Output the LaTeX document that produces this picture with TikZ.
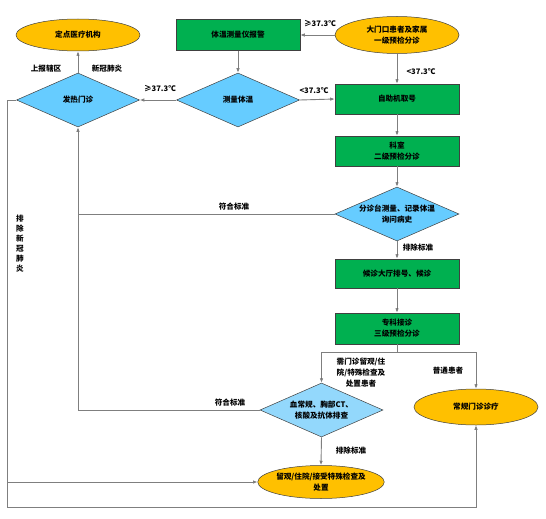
\documentclass[tikz,border=0pt]{standalone}
\usepackage{fontspec}
\setmainfont{Noto Sans CJK SC}
\usetikzlibrary{shapes.geometric,arrows.meta}
\definecolor{gbox}{HTML}{00B050}
\definecolor{ybox}{HTML}{FFC000}
\definecolor{bdia}{HTML}{66CCFF}
\definecolor{bdib}{HTML}{93D8FC}
\definecolor{edge}{HTML}{404040}
\definecolor{conn}{HTML}{7F7F7F}
\tikzset{
  every node/.style={font=\fontsize{7.6}{11}\selectfont\bfseries, align=center},
  rectbox/.style={rectangle, draw=edge, line width=0.5pt, fill=gbox, minimum width=124pt, inner sep=0pt},
  ellbox/.style={ellipse, draw=edge, line width=0.5pt, fill=ybox, inner sep=0pt},
  diabox/.style={diamond, draw=edge, line width=0.5pt, fill=bdia, inner sep=0pt, minimum width=123pt, minimum height=54pt},
  conline/.style={draw=conn, line width=0.9pt},
  arr/.style={conline, -{Latex[length=4.5pt,width=3.5pt,fill=black]}},
  lbl/.style={inner sep=0pt}
}
\begin{document}
\begin{tikzpicture}[x=1pt,y=-1pt]
\useasboundingbox (0,0) rectangle (546,519);
\fill[white] (0,0) rectangle (546,519);
% nodes
\node[ellbox, minimum width=124pt, minimum height=32pt] (dd) at (78,35) {定点医疗机构};
\node[rectbox, minimum height=31pt] (alarm) at (238,35) {体温测量仪报警};
\node[ellbox, minimum width=124pt, minimum height=37pt] (gate) at (397,35) {大门口患者及家属\\一级预检分诊};
\node[diabox, label={center:测量体温}] (meas) at (238,100) {};
\node[diabox, label={center:发热门诊}] (fever) at (78,100) {};
\node[rectbox, minimum height=30pt] (self) at (397,99) {自助机取号};
\node[rectbox, minimum height=30pt] (dept) at (397,151) {科室\\二级预检分诊};
\node[diabox, minimum width=124pt, label={center:分诊台测量、记录体温\\询问病史}] (triage) at (397,214) {};
\node[rectbox, minimum height=29pt] (wait) at (397,273.5) {候诊大厅排号、候诊};
\node[rectbox, minimum height=31pt] (spec) at (397,328.5) {专科接诊\\三级预检分诊};
\node[diabox, fill=bdib, label={center:血常规、胸部CT、\\核酸及抗体排查}] (test) at (321.5,410) {};
\node[ellbox, minimum width=125pt, minimum height=33pt] (obs) at (321,482) {留观/住院/接受特殊检查及\\处置};
\node[ellbox, minimum width=124pt, minimum height=36pt] (reg) at (476,407) {常规门诊诊疗};
% helper coordinates
\coordinate (sp) at (397,352);
\coordinate (lt) at (7,100);
\coordinate (lb) at (7,507);
\coordinate (lm) at (7,482);
% connectors
\draw[arr] (gate.west) -- (alarm.east);
\draw[arr] (alarm.south) -- (meas.north);
\draw[arr] (meas.west) -- (fever.east);
\draw[arr] (meas.east) -- (self.west);
\draw[arr] (gate.south) -- (self.north);
\draw[arr] (fever.north) -- (dd.south);
\draw[arr] (self.south) -- (dept.north);
\draw[arr] (dept.south) -- (triage.north);
\draw[conline] (triage.west) -- (triage.west -| fever.south);
\draw[arr] (test.west) -- (test.west -| fever.south) -- (fever.south);
\draw[arr] (triage.south) -- (wait.north);
\draw[arr] (wait.south) -- (spec.north);
\draw[conline] (spec.south) -- (sp);
\draw[arr] (sp) -| (test.north);
\draw[arr] (sp) -| (reg.north);
\draw[arr] (test.south) -- (obs.north);
\draw[arr] (fever.west) -- (lt) -- (lb) -| (reg.south);
\draw[arr] (lm) -- (obs.west);
% labels
\node[lbl] (l1) at (320,24) {≥37.3℃};
\node[lbl] (l2) at (160,89) {≥37.3℃};
\node[lbl] (l3) at (314,91) {<37.3℃};
\node[lbl] (l4) at (421,72) {<37.3℃};
\node[lbl] (l5) at (46,69) {上报辖区};
\node[lbl] (l6) at (107,69) {新冠肺炎};
\node[lbl] (l7) at (234,207) {符合标准};
\node[lbl] (l8) at (418,248) {排除标准};
\node[lbl] (l9) at (361,373) {需门诊留观/住\\院/特殊检查及\\处置患者};
\node[lbl] (l10) at (448,371) {普通患者};
\node[lbl] (l11) at (230,403) {符合标准};
\node[lbl] (l12) at (351,451) {排除标准};
\node[lbl, font=\fontsize{7.6}{10}\selectfont\bfseries] (l13) at (20,244) {排\\除\\新\\冠\\肺\\炎};
\end{tikzpicture}
\end{document}
